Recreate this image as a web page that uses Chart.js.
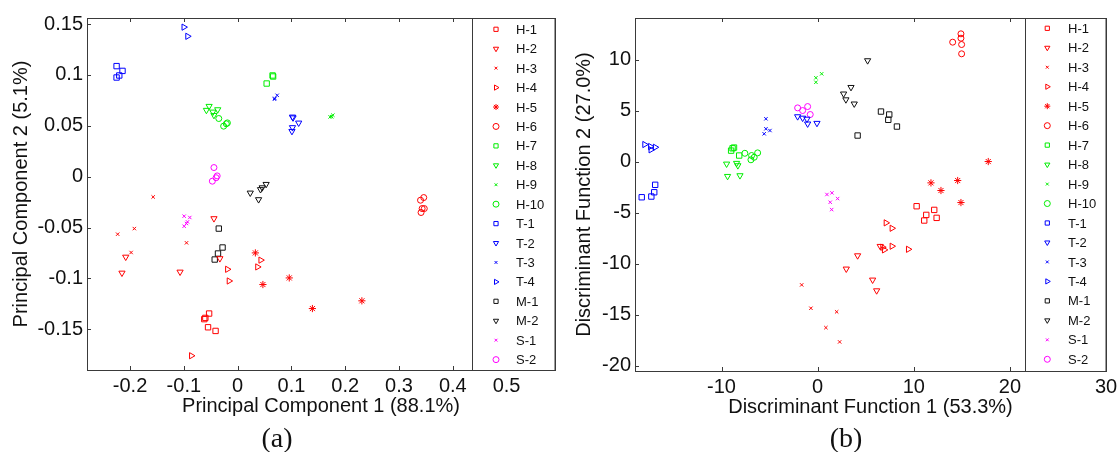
<!DOCTYPE html>
<html>
<head>
<meta charset="utf-8">
<script src="https://cdn.jsdelivr.net/npm/chart.js@4"></script>
<style>
html, body { margin: 0; padding: 0; background: #fff; overflow: hidden; }
#chartA { position: absolute; left: 0; top: 0; }
#chartB { position: absolute; left: 560px; top: 0; }
</style>
</head>
<body>
<canvas id="chartA" width="560" height="452"></canvas>
<canvas id="chartB" width="557" height="452"></canvas>
<script>
// series names (legend order)
const seriesNames = ['H-1', 'H-2', 'H-3', 'H-4', 'H-5', 'H-6', 'H-7', 'H-8', 'H-9', 'H-10',
    'T-1', 'T-2', 'T-3', 'T-4', 'M-1', 'M-2', 'S-1', 'S-2'];

// (a) principal component scores [PC1, PC2]
const pcaH1 = [[-0.053, -0.1345], [-0.060, -0.1388], [-0.062, -0.140], [-0.055, -0.148], [-0.041, -0.1516]];
const pcaH2 = [[-0.044, -0.0411], [-0.208, -0.0789], [-0.215, -0.0946], [-0.107, -0.0936], [-0.033, -0.0804]];
const pcaH3 = [[-0.157, -0.0199], [-0.223, -0.0565], [-0.192, -0.051], [-0.198, -0.0745], [-0.095, -0.065]];
const pcaH4 = [[-0.019, -0.091], [-0.016, -0.1025], [-0.086, -0.176], [0.043, -0.082], [0.037, -0.0887]];
const pcaH5 = [[0.033, -0.0749], [0.047, -0.106], [0.096, -0.0995], [0.139, -0.1296], [0.231, -0.122]];
const pcaH6 = [[0.340, -0.0231], [0.346, -0.0205], [0.343, -0.0313], [0.347, -0.0313], [0.341, -0.0352]];
const pcaH7 = [[0.054, 0.0916], [0.065, 0.0995], [0.066, 0.0985]];
const pcaH8 = [[-0.053, 0.0693], [-0.058, 0.0654], [-0.046, 0.0637], [-0.037, 0.066], [-0.044, 0.0604]];
const pcaH9 = [[0.172, 0.0588], [0.177, 0.0605], [0.175, 0.059]];
const pcaH10 = [[-0.035, 0.0572], [-0.026, 0.0497], [-0.019, 0.0529], [-0.021, 0.052]];
const pcaT1 = [[-0.225, 0.1087], [-0.214, 0.104], [-0.225, 0.0975], [-0.220, 0.0995]];
const pcaT2 = [[0.102, 0.0588], [0.1135, 0.0529], [0.102, 0.0484], [0.101, 0.0447], [0.103, 0.058]];
const pcaT3 = [[0.0685, 0.0762], [0.0735, 0.080], [0.069, 0.077]];
const pcaT4 = [[-0.100, 0.147], [-0.093, 0.138]];
const pcaM1 = [[-0.035, -0.051], [-0.028, -0.0696], [-0.0365, -0.0755], [-0.0426, -0.0814]];
const pcaM2 = [[0.0235, -0.0159], [0.039, -0.0224], [0.0426, -0.0125], [0.0457, -0.0107], [0.053, -0.0074]];
const pcaS1 = [[-0.0994, -0.0388], [-0.0889, -0.0401], [-0.0932, -0.0444], [-0.0994, -0.0487], [-0.095, -0.046]];
const pcaS2 = [[-0.044, 0.009], [-0.038, 0.0008], [-0.047, -0.0044], [-0.040, -0.001]];

// (b) discriminant function scores [DF1, DF2]
const ldaH1 = [[10.3, -4.35], [11.3, -5.2], [12.13, -4.71], [11.09, -5.75], [12.38, -5.49]];
const ldaH2 = [[4.16, -9.19], [2.98, -10.49], [5.72, -11.57], [6.14, -12.62], [6.51, -8.27]];
const ldaH3 = [[-1.66, -12.06], [-0.7, -14.35], [0.86, -16.25], [1.98, -14.7], [2.29, -17.65]];
const ldaH4 = [[7.11, -5.98], [7.73, -6.51], [6.76, -8.37], [7.73, -8.27], [9.43, -8.57], [6.93, -8.63]];
const ldaH5 = [[17.75, 0.03], [11.79, -2.06], [14.57, -1.83], [12.83, -2.81], [14.91, -3.99]];
const ldaH6 = [[14.91, 12.55], [14.91, 12.12], [14.05, 11.73], [14.98, 11.5], [14.98, 10.59]];
const ldaH7 = [[-8.85, 1.33], [-9.0, 1.1], [-8.16, 0.62], [-8.7, 1.4]];
const ldaH8 = [[-9.47, -0.2], [-8.43, -0.13], [-8.3, -0.36], [-9.37, -1.41], [-8.08, -1.34]];
const ldaH9 = [[-0.18, 8.24], [-0.18, 7.8], [0.42, 8.63]];
const ldaH10 = [[-7.57, 0.84], [-6.87, 0.62], [-6.24, 0.88], [-6.94, 0.2], [-6.6, 0.45]];
const ldaT1 = [[-18.3, -3.47], [-17.3, -3.40], [-17.0, -2.98], [-16.9, -2.25]];
const ldaT2 = [[-2.08, 4.44], [-1.56, 4.3], [-1.11, 4.2], [-1.04, 3.73], [-0.07, 3.79]];
const ldaT3 = [[-5.38, 4.22], [-5.38, 3.24], [-4.96, 3.07], [-5.56, 2.75]];
const ldaT4 = [[-18.0, 1.70], [-17.4, 1.50], [-16.9, 1.43], [-17.35, 1.18]];
const ldaM1 = [[6.59, 4.93], [7.45, 4.64], [7.35, 4.12], [8.25, 3.46], [4.16, 2.58]];
const ldaM2 = [[5.2, 9.93], [3.47, 7.31], [2.7, 6.67], [2.94, 6.1], [3.81, 5.69]];
const ldaS1 = [[0.97, -3.2], [1.49, -3.04], [1.31, -3.96], [2.08, -3.6], [1.46, -4.68]];
const ldaS2 = [[-2.08, 5.29], [-1.04, 5.42], [-1.56, 5.03], [-0.77, 4.64]];

// tick values
const pcaXTicks = [-0.2, -0.1, 0, 0.1, 0.2, 0.3, 0.4, 0.5];
const pcaYTicks = [-0.15, -0.1, -0.05, 0, 0.05, 0.1, 0.15];
const ldaXTicks = [-10, 0, 10, 20, 30];
const ldaYTicks = [-20, -15, -10, -5, 0, 5, 10];

// marker styles per series: [colour, pointStyle, rotation]
const RED = '#ff0000', GREEN = '#00ee00', BLUE = '#0000ff', BLACK = '#111111', MAG = '#ff00ff';
const seriesStyles = [
    [RED, 'rect', 0], [RED, 'triangle', 180], [RED, 'crossRot', 0], [RED, 'triangle', 90], [RED, 'star', 0],
    [RED, 'circle', 0], [GREEN, 'rect', 0], [GREEN, 'triangle', 180], [GREEN, 'crossRot', 0], [GREEN, 'circle', 0],
    [BLUE, 'rect', 0], [BLUE, 'triangle', 180], [BLUE, 'crossRot', 0], [BLUE, 'triangle', 90],
    [BLACK, 'rect', 0], [BLACK, 'triangle', 180], [MAG, 'crossRot', 0], [MAG, 'circle', 0]
];
const markerSize = { rect: 3.8, triangle: 3.6, crossRot: 2.4, star: 3.6, circle: 3 };

const FRAME = '#3a3a3a';
const TEXT = '#111111';
const fmt = v => String(parseFloat(Number(v).toFixed(4)));

const framePlugin = {
    id: 'frame',
    beforeDatasetsDraw(chart) {
        const { ctx, chartArea: a, scales } = chart;
        ctx.save();
        ctx.strokeStyle = FRAME;
        ctx.lineWidth = 1;
        ctx.strokeRect(Math.round(a.left) + 0.5, Math.round(a.top) + 0.5,
            Math.round(a.right - a.left), Math.round(a.bottom - a.top));
        // inward ticks on all sides
        ctx.beginPath();
        scales.x.ticks.forEach(t => {
            const px = Math.round(scales.x.getPixelForValue(t.value)) + 0.5;
            ctx.moveTo(px, a.bottom); ctx.lineTo(px, a.bottom - 4);
            ctx.moveTo(px, a.top); ctx.lineTo(px, a.top + 4);
        });
        scales.y.ticks.forEach(t => {
            const py = Math.round(scales.y.getPixelForValue(t.value)) + 0.5;
            ctx.moveTo(a.left, py); ctx.lineTo(a.left + 4, py);
            ctx.moveTo(a.right, py); ctx.lineTo(a.right - 4, py);
        });
        ctx.stroke();
        ctx.restore();
    },
    afterDatasetsDraw(chart, args, opts) {
        const { ctx, chartArea: a } = chart;
        ctx.save();
        const lx = Math.round(opts.left) + 0.5;
        ctx.fillStyle = '#fff';
        ctx.fillRect(lx, a.top, a.right - lx, a.bottom - a.top);
        ctx.strokeStyle = FRAME;
        ctx.lineWidth = 1;
        ctx.strokeRect(lx, Math.round(a.top) + 0.5, Math.round(a.right) - lx, Math.round(a.bottom - a.top));
        ctx.font = '13px "Liberation Sans", Arial, sans-serif';
        ctx.textBaseline = 'middle';
        ctx.textAlign = 'left';
        chart.data.datasets.forEach((ds, i) => {
            const y = opts.firstY + i * opts.step;
            ctx.strokeStyle = ds.borderColor;
            ctx.fillStyle = 'rgba(0,0,0,0)';
            Chart.helpers.drawPoint(ctx, {
                pointStyle: ds.pointStyle, rotation: ds.pointRotation,
                radius: ds.pointStyle === 'crossRot' ? 2 : 3, borderWidth: 1
            }, opts.markerX, y);
            ctx.fillStyle = TEXT;
            ctx.fillText(ds.label, opts.textX, y + 1);
        });
        ctx.restore();
    },
    afterDraw(chart, args, opts) {
        const ctx = chart.ctx;
        ctx.save();
        ctx.font = '28px "Liberation Serif", "Times New Roman", serif';
        ctx.fillStyle = TEXT;
        ctx.textAlign = 'center';
        ctx.textBaseline = 'middle';
        ctx.fillText(opts.tag, opts.tagX, opts.tagY);
        ctx.restore();
    }
};

function buildChart(id, cfg) {
    const datasets = cfg.series.map((pts, i) => {
        const [color, style, rot] = seriesStyles[i];
        return {
            label: seriesNames[i],
            data: pts.map(p => ({ x: p[0], y: p[1] })),
            pointStyle: style,
            pointRotation: rot,
            pointRadius: markerSize[style],
            pointBorderWidth: 1,
            borderColor: color,
            backgroundColor: 'rgba(0,0,0,0)',
            showLine: false
        };
    });
    const tickFont = { family: '"Liberation Sans", Arial, sans-serif', size: 20 };
    const noGrid = { display: false, drawTicks: false, tickLength: 0 };
    return new Chart(document.getElementById(id), {
        type: 'scatter',
        data: { datasets },
        plugins: [framePlugin],
        options: {
            responsive: false,
            animation: false,
            events: [],
            layout: { padding: { top: 18, left: 0, right: cfg.padRight, bottom: cfg.padBottom } },
            plugins: {
                legend: { display: false },
                tooltip: { enabled: false },
                frame: cfg.legend
            },
            scales: {
                x: {
                    type: 'linear', min: cfg.xMin, max: cfg.xMax,
                    grid: noGrid, border: { display: false },
                    ticks: { font: tickFont, color: TEXT, padding: 4, maxRotation: 0, autoSkip: false, callback: fmt },
                    afterBuildTicks: s => { s.ticks = cfg.xTicks.map(v => ({ value: v })); },
                    afterFit: s => { s.height = 48; s.paddingLeft = 0; s.paddingRight = 0; },
                    title: { display: true, text: cfg.xTitle, font: tickFont, color: TEXT, padding: { top: 0, bottom: 0 } }
                },
                y: {
                    type: 'linear', min: cfg.yMin, max: cfg.yMax,
                    grid: noGrid, border: { display: false },
                    ticks: { font: tickFont, color: TEXT, padding: 4, autoSkip: false, callback: fmt },
                    afterBuildTicks: s => { s.ticks = cfg.yTicks.map(v => ({ value: v })); },
                    afterFit: s => { s.width = cfg.yWidth; s.paddingTop = 0; s.paddingBottom = 0; },
                    title: { display: true, text: cfg.yTitle, font: tickFont, color: TEXT, padding: { top: cfg.yTitlePad, bottom: 0 } }
                }
            }
        }
    });
}

buildChart('chartA', {
    series: [pcaH1, pcaH2, pcaH3, pcaH4, pcaH5, pcaH6, pcaH7, pcaH8, pcaH9, pcaH10,
        pcaT1, pcaT2, pcaT3, pcaT4, pcaM1, pcaM2, pcaS1, pcaS2],
    xMin: -0.28, xMax: 0.59, yMin: -0.19, yMax: 0.156,
    xTicks: pcaXTicks, yTicks: pcaYTicks,
    xTitle: 'Principal Component 1 (88.1%)', yTitle: 'Principal Component 2 (5.1%)',
    padRight: 4, padBottom: 34, yWidth: 87, yTitlePad: 9,
    legend: { left: 472, markerX: 496, textX: 516, firstY: 29.3, step: 19.43, tag: '(a)', tagX: 277, tagY: 440 }
});

buildChart('chartB', {
    series: [ldaH1, ldaH2, ldaH3, ldaH4, ldaH5, ldaH6, ldaH7, ldaH8, ldaH9, ldaH10,
        ldaT1, ldaT2, ldaT3, ldaT4, ldaM1, ldaM2, ldaS1, ldaS2],
    xMin: -19, xMax: 30, yMin: -20.5, yMax: 14.1,
    xTicks: ldaXTicks, yTicks: ldaYTicks,
    xTitle: 'Discriminant Function 1 (53.3%)', yTitle: 'Discriminant Function 2 (27.0%)',
    padRight: 11, padBottom: 33, yWidth: 75, yTitlePad: 12,
    legend: { left: 465, markerX: 487.3, textX: 508, firstY: 28.3, step: 19.47, tag: '(b)', tagX: 286, tagY: 440 }
});
</script>
</body>
</html>
